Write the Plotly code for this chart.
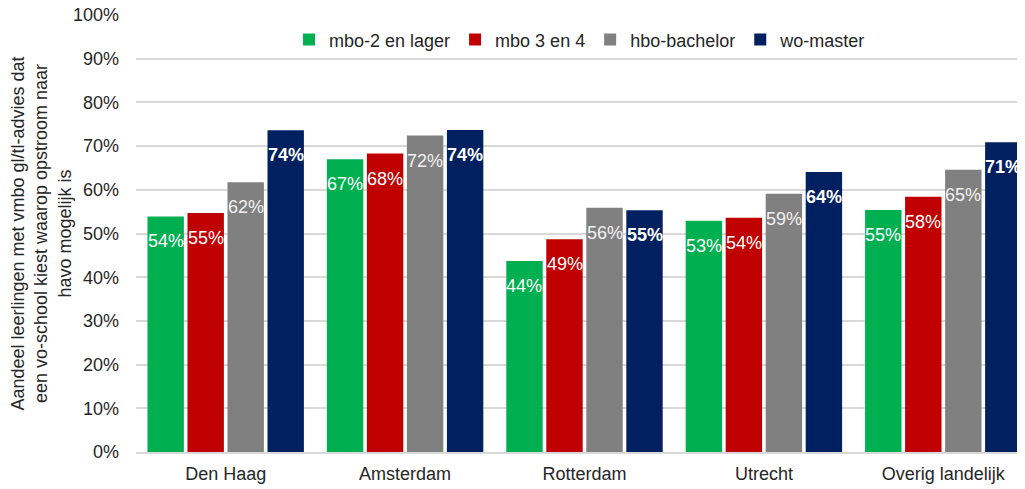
import plotly.graph_objects as go

regio = ['Den Haag', 'Amsterdam', 'Rotterdam', 'Utrecht', 'Overig landelijk']

mbo2 = [53.9, 67.0, 43.7, 52.9, 55.4]
mbo34 = [54.7, 68.3, 48.7, 53.6, 58.4]
hbo = [61.7, 72.4, 55.9, 59.1, 64.6]
wo = [73.6, 73.7, 55.3, 64.1, 70.9]

series = [
    ('mbo-2 en lager', mbo2, '#00B050', 'white', False),
    ('mbo 3 en 4', mbo34, '#C00000', 'white', False),
    ('hbo-bachelor', hbo, '#808080', '#F2F2F2', False),
    ('wo-master', wo, '#002060', 'white', True),
]

FONT = 'Liberation Sans, Arial'
bargap = 0.108
n = len(series)
breedte = (1 - bargap) / n  # ruimte per balk in categorie-eenheden

fig = go.Figure()
for i, (naam, waarden, kleur, tekstkleur, vet) in enumerate(series):
    fig.add_trace(go.Bar(
        x=regio, y=waarden, name=naam,
        marker=dict(color=kleur, line=dict(width=0)),
    ))
    # datalabels iets onder de top van de balk, zoals in Excel
    for j, v in enumerate(waarden):
        label = f'{v:.0f}%'
        if vet:
            label = f'<b>{label}</b>'
        fig.add_annotation(
            x=j + (i - (n - 1) / 2) * breedte, y=v, text=label,
            showarrow=False, yshift=-25, yanchor='middle', xanchor='center',
            font=dict(color=tekstkleur, size=18, family=FONT),
        )

# de pagina heeft 8px body-marge, daarom marges iets kleiner
fig.update_layout(
    barmode='group', bargap=bargap, bargroupgap=0.09,
    width=1025, height=489,
    margin=dict(l=128, r=0, t=7, b=45),
    plot_bgcolor='white', paper_bgcolor='white',
    font=dict(family=FONT, size=18, color='#262626'),
    legend=dict(orientation='h', x=0.495, xanchor='center', y=0.943, yanchor='middle',
                font=dict(size=18, color='#262626'), bgcolor='rgba(0,0,0,0)',
                itemwidth=30, traceorder='normal'),
)

fig.update_xaxes(range=[-0.5, 4.5], showgrid=False, showline=True, linecolor='#D9D9D9',
                 linewidth=1.5, ticks='', automargin=False, ticklabelstandoff=5,
                 tickfont=dict(size=18, color='#262626'))
fig.update_yaxes(range=[0, 100], dtick=10, ticksuffix='%', showgrid=True, gridcolor='#D9D9D9',
                 gridwidth=1.5, zeroline=False, ticklabelstandoff=16, automargin=False,
                 ticklabeloverflow='allow',
                 tickfont=dict(size=18, color='#262626'),
                 title=dict(text='Aandeel leerlingen met vmbo gl/tl-advies dat<br>een vo-school kiest waarop opstroom naar<br>havo mogelijk is',
                            font=dict(size=18, color='#262626'), standoff=6))

fig.write_html("out.html")
